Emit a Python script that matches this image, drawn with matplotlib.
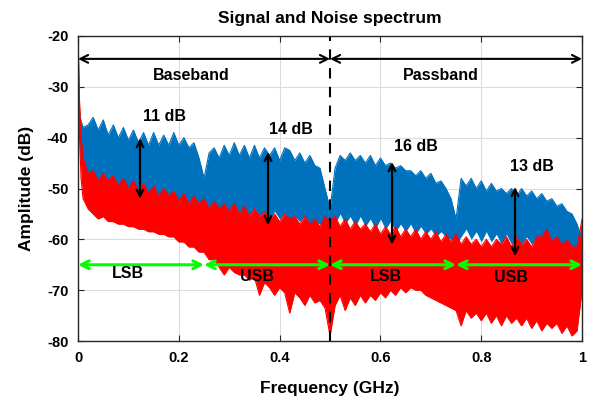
import numpy as np
import matplotlib
matplotlib.use("Agg")
import matplotlib.pyplot as plt

plt.rcParams['font.family'] = ['Liberation Sans', 'DejaVu Sans']
plt.rcParams['font.weight'] = 'bold'
plt.rcParams['axes.unicode_minus'] = False

# ---------------- data ----------------
grid_freq = [round(0.01 * i, 2) for i in range(1, 101)]

blue_freq = [0.0, 0.004] + grid_freq
blue_hi = [-30, -36,
    -38, -37.5, -36, -38.5, -36.5, -39.5, -37.5, -40, -38, -40.5,
    -38.5, -41, -39, -41.5, -39, -41.5, -39.5, -41.5, -39, -41.5,
    -40, -42, -41, -44, -48,
    -43, -42, -44, -41.5, -43.5, -41, -43.5, -41.5, -44, -41.5,
    -44, -42, -43.5, -42, -44.5, -42, -42.5, -44.5, -43, -45,
    -43.5, -45.5, -46, -50, -54,
    -46, -43.5, -44.5, -43, -44.5, -43.5, -45, -43.5, -45.5, -44,
    -45.5, -45, -46, -45.5, -46.5, -46.5, -47.5, -46.5, -48, -47,
    -49, -48.5, -50, -52, -56,
    -48, -49.5, -48, -50, -48.5, -50.5, -49, -50.5, -50, -51,
    -50, -51.5, -50, -51.5, -50.5, -52, -51, -52.5, -52, -53.5,
    -53, -54.5, -55, -57, -60]
blue_lo = [-34, -44,
    -46, -48, -47, -49, -48, -50, -48.5, -50.5, -49, -51,
    -50, -51.5, -50, -52, -50.5, -52, -50.5, -52.5, -51, -52.5,
    -51.5, -53, -52, -53, -54,
    -54, -53, -54.5, -53, -55, -53.5, -55, -54, -55.5, -54,
    -55.5, -54.5, -56, -54.5, -56, -55, -56.5, -55.5, -56.5, -55.5,
    -57, -56.5, -57, -58, -58,
    -57, -55, -57, -55.5, -57.5, -55.5, -57.5, -56, -58, -56,
    -58, -56.5, -58.5, -57, -58.5, -57, -59, -57.5, -59, -58,
    -59.5, -58.5, -59.5, -60, -61,
    -59.5, -58, -60, -58.5, -60.5, -58.5, -60.5, -59, -61, -59,
    -61, -59.5, -61, -59.5, -61, -60, -61, -60.5, -61.5, -60.5,
    -62, -61, -62, -62, -63]

red_freq = [0.0, 0.003, 0.006] + grid_freq
red_hi = [-20, -33, -40,
    -44, -47, -46.5, -48.5, -47, -48.5, -47.5, -49.5, -48, -50,
    -48.5, -50.5, -49, -51, -49.5, -51.5, -50, -51.5, -50.5, -52.5,
    -51, -53, -51.5, -53, -52, -54, -52.5, -54, -53, -54.5,
    -53, -55, -53.5, -55.5, -54, -55.5, -54.5, -56, -55, -56.5,
    -55, -56, -55.5, -57, -55.5, -57, -56, -57.5, -55.5, -56.5,
    -55.5, -57.5, -56, -58, -56.5, -58, -57, -58.5, -57, -59,
    -57.5, -59, -57.5, -59.5, -58, -59.5, -58, -60, -58.5, -60,
    -58.5, -60.5, -59, -60.5, -59, -61, -59.5, -61, -60, -61.5,
    -60, -61.5, -60, -61, -59.5, -61.5, -59.5, -61, -60, -61.5,
    -59.5, -59.5, -58, -60.5, -59.5, -61, -60, -61.5, -61.5, -56]
red_lo = [-24, -40, -48,
    -52, -54, -55, -56, -55.5, -56.5, -56.5, -57, -57, -57.5,
    -57.5, -58, -58, -58.5, -58.5, -59, -59, -59.5, -59.5, -60.5,
    -60.5, -61.5, -61.5, -62.5, -62.5, -64, -64, -65.5, -67, -65.5,
    -66.5, -67, -67, -68, -67.5, -71, -68.5, -69.5, -71, -69.5,
    -70.5, -74.5, -70.5, -71.5, -73, -71, -72.5, -72, -73.5, -79,
    -73, -71, -74, -71.5, -73, -71, -72.5, -71, -72, -70.5,
    -71.5, -70, -71, -69.5, -70.5, -69.5, -70, -70, -71, -71.5,
    -72, -72.5, -73, -73.5, -74, -77, -74, -75.5, -74.5, -76,
    -74.5, -76.5, -75, -77, -75, -76.5, -75.5, -77, -75.5, -77.5,
    -76, -78, -76.5, -77.5, -76.5, -78.5, -77, -79, -78, -70]

band_edges = [0.0, 0.25, 0.5, 0.75, 1.0]
band_labels = ['LSB', 'USB', 'LSB', 'USB']
band_label_x = [0.099, 0.355, 0.610, 0.859]
band_label_y = [-66.8, -67.4, -67.4, -67.6]

snr_labels = ['11 dB', '14 dB', '16 dB', '13 dB']
snr_x = [0.123, 0.377, 0.623, 0.867]
snr_top = [-40.1, -42.8, -44.8, -49.7]
snr_bot = [-52.0, -57.2, -61.0, -63.3]
snr_text_x = [0.171, 0.423, 0.671, 0.901]
snr_text_y = [-35.9, -38.3, -41.7, -45.6]

xticks = [0, 0.2, 0.4, 0.6, 0.8, 1]
xtick_labels = ['0', '0.2', '0.4', '0.6', '0.8', '1']
yticks = [-80, -70, -60, -50, -40, -30, -20]

BLUE = '#0072BD'
RED = '#FF0000'
GREEN = '#00FF00'

# ---------------- figure ----------------
fig = plt.figure(figsize=(5.92, 4.03), dpi=100)
ax = fig.add_axes([0.1318, 0.1538, 0.8514, 0.7569])

ax.fill_between(blue_freq, blue_lo, blue_hi, color=BLUE, lw=0)
ax.plot(blue_freq, blue_hi, color=BLUE, lw=0.8)
ax.fill_between(red_freq, red_lo, red_hi, color=RED, lw=0)
ax.plot(red_freq, red_hi, color=RED, lw=0.8)
ax.plot(red_freq, red_lo, color=RED, lw=0.8)

ax.set_xlim(0, 1)
ax.set_ylim(-80, -20)
ax.set_xticks(xticks)
ax.set_xticklabels(xtick_labels)
ax.set_yticks(yticks)
ax.grid(True, color='#dcdcdc', lw=0.8)
ax.set_axisbelow(True)
ax.tick_params(direction='in', top=True, right=True, labelsize=10.5,
               length=4, color='#262626', pad=7)
for sp in ax.spines.values():
    sp.set_color('#262626')
    sp.set_linewidth(1.0)
for lab in ax.get_xticklabels() + ax.get_yticklabels():
    lab.set_fontweight('bold')

ax.set_title('Signal and Noise spectrum', fontsize=12.5, fontweight='bold', pad=9)
ax.set_xlabel('Frequency (GHz)', fontsize=12.5, fontweight='bold', labelpad=12)
ax.set_ylabel('Amplitude (dB)', fontsize=12.5, fontweight='bold', labelpad=9)

# dashed boundary
ax.axvline(0.5, color='black', lw=1.5, ls=(0, (5, 4)))

# Baseband / Passband arrows
arr_k = dict(arrowstyle='<->', color='black', lw=1.5, mutation_scale=14,
             shrinkA=0, shrinkB=0)
ax.annotate('', xy=(0.0, -24.5), xytext=(0.5, -24.5), arrowprops=arr_k)
ax.annotate('', xy=(0.5, -24.5), xytext=(1.0, -24.5), arrowprops=arr_k)
ax.text(0.225, -27.8, 'Baseband', ha='center', va='center', fontsize=11.5, fontweight='bold')
ax.text(0.72, -27.8, 'Passband', ha='center', va='center', fontsize=11.5, fontweight='bold')

# SNR arrows
arr_s = dict(arrowstyle='<->', color='black', lw=1.6, mutation_scale=12,
             shrinkA=0, shrinkB=0)
for x, t, b, tx, ty, lab in zip(snr_x, snr_top, snr_bot, snr_text_x, snr_text_y, snr_labels):
    ax.annotate('', xy=(x, t), xytext=(x, b), arrowprops=arr_s)
    ax.text(tx, ty, lab, ha='center', va='center', fontsize=11.5, fontweight='bold')

# sideband arrows
arr_g = dict(arrowstyle='<->', color=GREEN, lw=2.2, mutation_scale=14,
             shrinkA=0, shrinkB=0)
for i, lab in enumerate(band_labels):
    x0, x1 = band_edges[i], band_edges[i + 1]
    ax.annotate('', xy=(x0, -65), xytext=(x1, -65), arrowprops=arr_g)
    ax.text(band_label_x[i], band_label_y[i], lab, ha='center', va='center',
            fontsize=11.5, fontweight='bold')

fig.savefig('out.png', dpi=100)
